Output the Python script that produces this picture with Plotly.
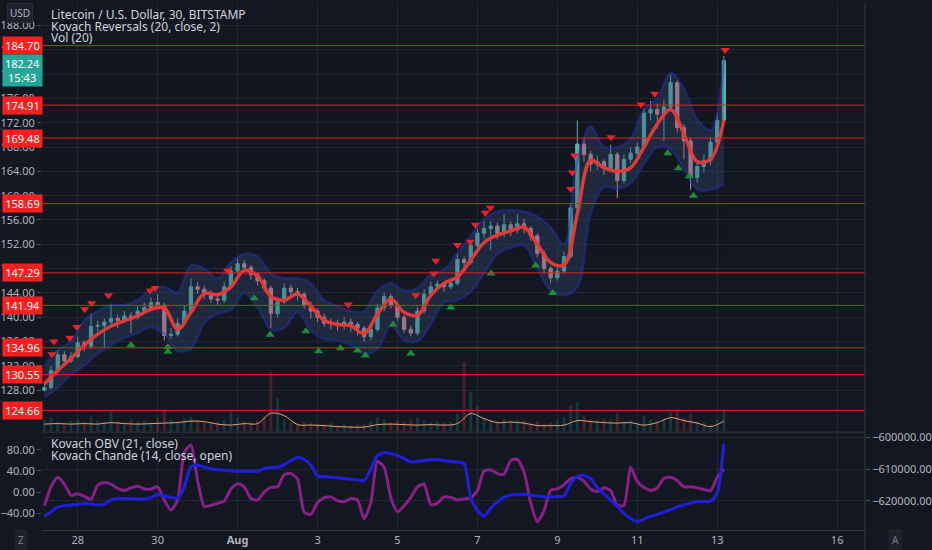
import pandas as pd
import plotly.graph_objects as go

# 4h candles, LTC/USD
closes = [128.4, 131.2, 133.8, 132.8, 133.5, 135.8, 135.2, 138.5, 138.6, 139.2,
          139.8, 139.4, 140.2, 140.0, 141.0, 141.6, 142.4, 142.0, 137.0, 137.2,
          139.0, 141.0, 145.0, 144.6, 143.8, 143.0, 142.8, 145.0, 147.6, 148.8,
          148.2, 147.0, 146.0, 144.8, 140.6, 142.5, 144.8, 144.2, 143.8, 142.0,
          141.0, 140.0, 139.0, 139.0, 138.6, 139.2, 138.8, 138.2, 136.8, 138.0,
          141.5, 143.4, 142.0, 140.0, 138.0, 137.4, 141.0, 143.8, 145.0, 145.4,
          145.0, 145.6, 149.5, 149.0, 151.8, 153.8, 154.6, 155.0, 153.8, 155.2,
          154.4, 155.4, 154.6, 153.4, 150.5, 148.0, 146.5, 147.6, 150.0, 158.0,
          168.5, 166.8, 165.2, 165.6, 164.5, 166.8, 162.5, 166.0, 167.0, 168.0,
          173.6, 174.2, 173.4, 174.6, 178.6, 171.2, 169.0, 163.0, 164.8, 165.8,
          168.8, 172.4, 182.24]
highs = [129.2, 132.0, 134.6, 134.4, 134.2, 136.8, 136.2, 140.6, 139.4, 139.8,
         142.2, 140.4, 141.0, 140.8, 141.8, 142.4, 143.2, 143.8, 142.4, 138.2,
         139.8, 142.0, 146.4, 145.8, 145.2, 144.4, 143.8, 145.8, 148.4, 149.7,
         149.4, 148.6, 147.4, 146.4, 145.2, 143.2, 145.6, 145.4, 144.8, 144.2,
         142.6, 141.4, 140.6, 139.8, 139.6, 140.0, 139.8, 139.2, 138.6, 138.6,
         142.2, 144.0, 143.8, 142.4, 140.4, 138.6, 141.6, 144.6, 145.8, 146.0,
         145.8, 146.4, 150.4, 150.0, 152.6, 154.6, 155.8, 155.8, 155.6, 157.0,
         155.8, 157.0, 156.2, 155.0, 153.8, 151.0, 148.4, 148.2, 150.8, 158.8,
         172.4, 169.4, 167.4, 166.6, 166.0, 168.4, 167.2, 166.8, 168.0, 168.8,
         174.4, 175.6, 175.2, 175.8, 179.8, 179.0, 171.8, 169.6, 165.6, 166.8,
         169.6, 173.4, 183.0]
lows = [127.8, 128.2, 130.8, 132.0, 132.4, 133.2, 134.4, 134.8, 137.6, 135.0,
        138.8, 138.2, 139.0, 137.4, 139.6, 140.6, 141.0, 141.4, 136.2, 136.4,
        136.8, 138.6, 140.8, 143.8, 143.0, 142.4, 142.0, 142.4, 144.8, 147.2,
        147.4, 146.2, 145.2, 144.2, 138.2, 140.0, 142.2, 143.4, 142.8, 141.4,
        139.8, 139.2, 138.4, 138.0, 137.8, 138.0, 137.6, 137.0, 136.0, 136.2,
        137.6, 141.0, 141.4, 139.4, 137.4, 136.8, 137.0, 140.6, 143.2, 144.4,
        144.2, 144.6, 145.2, 148.0, 148.6, 151.2, 153.0, 151.0, 152.8, 153.2,
        153.4, 153.8, 153.8, 152.6, 149.8, 147.2, 145.6, 146.0, 147.2, 149.6,
        157.4, 165.6, 164.0, 164.2, 163.4, 164.0, 159.6, 162.0, 165.4, 166.4,
        167.6, 172.4, 171.0, 169.0, 174.0, 170.4, 166.0, 161.0, 162.2, 163.8,
        165.0, 168.2, 172.0]
first_open = 128.0
volumes = [12, 14, 10, 9, 11, 12, 10, 16, 11, 10,
           22, 10, 9, 12, 10, 11, 9, 14, 22, 12,
           10, 13, 15, 11, 9, 8, 10, 12, 20, 14,
           10, 9, 11, 16, 60, 34, 12, 9, 8, 10,
           9, 8, 7, 9, 6, 7, 6, 7, 8, 10,
           14, 12, 9, 11, 10, 12, 14, 11, 9, 10,
           9, 10, 18, 70, 40, 26, 14, 12, 10, 13,
           11, 12, 11, 9, 10, 8, 9, 11, 14, 26,
           30, 16, 12, 11, 13, 12, 18, 10, 11, 9,
           16, 12, 11, 13, 20, 22, 14, 18, 10, 9,
           7, 12, 22]

# Kovach Chande (left axis) and Kovach OBV (right axis), same 4h grid
chande = [-26, 10, 28, 15, -6, -3, -8, -14, 13, 18,
          15, 7, 3, 8, 11, 6, 6, 10, -15, -34,
          -15, 75, 89, 22, -27, -25, -21, -17, 6, 16,
          10, -12, -15, 0, 9, 10, 33, 35, 25, -38,
          -42, -20, -11, -9, -16, -18, -12, -15, -50, -20,
          58, 47, -10, -37, -26, -10, 10, 15, -24, -21,
          -9, -10, -15, -13, -11, 3, 40, 42, 35, 34,
          60, 62, 38, -20, -56, -35, 3.5, 6, 14, 25,
          28, 20, 6, 1, 8, 3, -25, -25, 47, 20,
          9, 3, 8, 26, 28, 22, 10, 10, 8, 5,
          2.5, 28, 43]
obv = [-624800, -623500, -621900, -621500, -621300, -621100, -620800, -621000, -621300, -621000,
       -619700, -619250, -619250, -619300, -619400, -619500, -619000, -618000, -618400, -618900,
       -619200, -615600, -609300, -608700, -609400, -609900, -610200, -610400, -610600, -610700,
       -610700, -610700, -610700, -609800, -609500, -609400, -608600, -607300, -606400, -607000,
       -608800, -612200, -612400, -612600, -612700, -613000, -613200, -613400, -613700, -610000,
       -605800, -604800, -605200, -605700, -606700, -607800, -607500, -607300, -607100, -607100,
       -607300, -607600, -607800, -608200, -619000, -623000, -624800, -622300, -620300, -618800,
       -618200, -618000, -617900, -618200, -618500, -618700, -618700, -618600, -618500, -614500,
       -612300, -612000, -613000, -615800, -617800, -619800, -621700, -624000, -625500, -626500,
       -625700, -624900, -624200, -623500, -622800, -621900, -621200, -620700, -620300, -620200,
       -620100, -617500, -602000]

# Kovach Reversals line + band, 8h grid
ma = [129.0, 131.2, 133.2, 135.4, 137.2, 138.5, 139.4, 140.2, 141.3, 141.5,
      138.0, 140.8, 143.9, 143.7, 145.0, 147.7, 146.8, 143.4, 142.8, 143.8,
      141.8, 139.5, 138.8, 138.6, 137.3, 140.5, 143.0, 140.8, 140.3, 143.6,
      145.6, 146.6, 149.4, 152.3, 153.5, 154.2, 154.8, 152.0, 149.0, 148.6,
      157.0, 165.8, 164.6, 164.0, 164.6, 168.0, 171.8, 174.2, 170.2, 165.6,
      166.0, 172.5]
band_hi = [132.0, 134.6, 136.0, 139.5, 141.0, 142.0, 142.0, 142.8, 144.6, 145.0,
           144.0, 148.6, 148.0, 146.4, 149.0, 150.4, 150.0, 147.2, 146.4, 146.4,
           145.6, 142.8, 141.8, 141.0, 141.0, 144.4, 145.6, 144.4, 144.8, 147.0,
           147.8, 150.6, 153.4, 156.2, 157.4, 157.6, 157.4, 156.6, 154.8, 152.0,
           166.0, 171.4, 168.0, 168.0, 169.4, 174.2, 176.0, 180.2, 177.6, 172.6,
           170.8, 182.6]
band_lo = [126.8, 128.4, 130.6, 132.0, 134.0, 135.4, 136.6, 137.4, 138.4, 137.2,
           134.4, 134.8, 139.0, 140.6, 141.2, 144.0, 141.6, 138.0, 138.2, 140.8,
           137.8, 136.4, 136.2, 135.4, 134.0, 134.8, 138.6, 136.2, 136.0, 138.8,
           142.4, 142.8, 144.2, 147.2, 150.4, 151.4, 151.8, 148.0, 144.4, 143.6,
           145.0, 157.0, 161.4, 161.2, 162.0, 165.2, 168.0, 167.6, 164.4, 161.0,
           161.0, 161.8]
vol_ma = [7.5, 8, 7.5, 8, 7.5, 9, 8, 7.5, 8, 8.5,
          9, 10.5, 10, 7.5, 6.5, 8, 8, 18.5, 16, 7,
          6.5, 6, 5, 4.5, 4.5, 7, 7.5, 7, 6.5, 7,
          6.5, 8, 18, 13, 9, 9.5, 8.5, 6, 6, 6.5,
          11, 10, 9, 8.5, 9, 6.5, 9, 14, 11, 8.5,
          5, 10.5]

red_t = ["2021-07-27 08:30", "2021-07-27 09:45", "2021-07-27 19:15", "2021-07-27 23:30",
         "2021-07-28 04:10", "2021-07-28 08:20", "2021-07-28 18:30", "2021-07-29 19:30",
         "2021-07-29 22:30", "2021-07-31 18:00", "2021-08-03 18:30", "2021-08-05 11:00",
         "2021-08-05 21:45", "2021-08-05 23:00", "2021-08-06 12:00", "2021-08-06 19:45",
         "2021-08-06 22:45", "2021-08-07 04:45", "2021-08-07 07:45", "2021-08-09 08:00",
         "2021-08-09 09:00", "2021-08-09 10:15", "2021-08-10 08:15", "2021-08-11 02:15",
         "2021-08-11 10:30", "2021-08-13 04:45"]
red_p = [133.9, 136.0, 136.6, 138.4, 141.3, 142.3, 143.6, 144.4, 144.8, 147.7, 142.1, 143.6,
         147.2, 149.3, 151.9, 152.4, 155.2, 157.2, 158.0, 161.1, 163.8, 166.6, 169.6, 175.0,
         176.8, 184.0]
green_t = ["2021-07-29 08:00", "2021-07-30 06:10", "2021-07-30 06:10", "2021-08-01 10:00",
           "2021-08-01 19:30", "2021-08-02 17:00", "2021-08-03 00:40", "2021-08-03 13:45",
           "2021-08-04 00:00", "2021-08-04 04:45", "2021-08-04 21:20", "2021-08-05 08:00",
           "2021-08-06 08:00", "2021-08-07 08:15", "2021-08-08 11:00", "2021-08-08 21:15",
           "2021-08-11 18:15", "2021-08-12 00:45", "2021-08-12 07:15", "2021-08-12 09:45"]
green_p = [135.4, 135.1, 134.3, 143.1, 137.1, 137.7, 134.4, 134.9, 134.5, 133.7, 138.8, 134.0,
           141.6, 147.2, 148.5, 144.0, 167.0, 164.5, 163.2, 160.0]

levels = [184.70, 174.91, 169.48, 158.69, 147.29, 141.94, 134.96, 130.55, 124.66]
last_price = 182.24
countdown = "15:43"

date_ticks = ["2021-07-28", "2021-07-30", "2021-08-01", "2021-08-03", "2021-08-05",
              "2021-08-07", "2021-08-09", "2021-08-11", "2021-08-13", "2021-08-16"]
date_labels = ["28", "30", "<b>Aug</b>", "3", "5", "7", "9", "11", "13", "16"]
price_ticks = list(range(128, 189, 4))
chande_ticks = [-40, 0, 40, 80]
obv_ticks = [-620000, -610000, -600000]

times = pd.date_range("2021-07-27 04:00", periods=len(closes), freq="4h")
times8 = times[::2]
opens = [first_open] + closes[:-1]

BG = "#131722"
GRID = "#222532"
TXT = "#b2b5be"
FONT = "Noto Sans"

fig = go.Figure()

# volume at the bottom of the price pane
vcol = ["rgba(38,166,154,0.22)" if c >= o else "rgba(239,83,80,0.22)" for o, c in zip(opens, closes)]
fig.add_trace(go.Bar(x=times, y=volumes, width=4 * 3600 * 1000 * 0.45,
                     marker=dict(color=vcol, line_width=0), xaxis="x", yaxis="y3"))
fig.add_trace(go.Scatter(x=times8, y=vol_ma, mode="lines", line=dict(color="#e3a173", width=1),
                         line_shape="spline", xaxis="x", yaxis="y3"))

# band
fig.add_trace(go.Scatter(x=times8, y=band_hi, mode="lines", line_shape="spline",
                         line=dict(color="rgba(35,50,190,0.45)", width=2.5), xaxis="x", yaxis="y"))
fig.add_trace(go.Scatter(x=times8, y=band_lo, mode="lines", line_shape="spline",
                         line=dict(color="rgba(35,50,190,0.45)", width=2.5),
                         fill="tonexty", fillcolor="rgba(55,80,125,0.33)", xaxis="x", yaxis="y"))

fig.add_trace(go.Candlestick(x=times, open=opens, high=highs, low=lows, close=closes,
                             increasing=dict(line=dict(color="#5fc3b6", width=1), fillcolor="#5fc3b6"),
                             decreasing=dict(line=dict(color="#e3979a", width=1), fillcolor="#e3979a"),
                             whiskerwidth=0, opacity=0.9, xaxis="x", yaxis="y"))

fig.add_trace(go.Scatter(x=times8, y=ma, mode="lines", line_shape="spline",
                         line=dict(color="#e53935", width=3.5), xaxis="x", yaxis="y"))

fig.add_trace(go.Scatter(x=pd.to_datetime(red_t), y=red_p, mode="markers",
                         marker=dict(symbol="triangle-down", size=8, color="#f0202a"),
                         xaxis="x", yaxis="y"))
fig.add_trace(go.Scatter(x=pd.to_datetime(green_t), y=green_p, mode="markers",
                         marker=dict(symbol="triangle-up", size=8, color="#1b8f36"),
                         xaxis="x", yaxis="y"))

# lower pane
fig.add_trace(go.Scatter(x=times, y=obv, mode="lines", line=dict(color="#1f1fe0", width=3,
                         shape="spline", smoothing=0.6), xaxis="x2", yaxis="y4"))
fig.add_trace(go.Scatter(x=times, y=chande, mode="lines", line=dict(color="#8a1f8c", width=3,
                         shape="spline", smoothing=0.6), xaxis="x2", yaxis="y2"))

xr = ["2021-07-27 02:34", "2021-08-16 16:44"]
axis_font = dict(family=FONT, size=11, color=TXT)

fig.update_layout(
    width=932, height=550,
    margin=dict(l=41, r=61, t=0, b=20),
    paper_bgcolor=BG, plot_bgcolor=BG,
    showlegend=False, hovermode=False,
    font=dict(family=FONT, color=TXT),
    xaxis=dict(domain=[0, 1], anchor="y", range=xr, tickvals=date_ticks, showticklabels=False,
               showgrid=True, gridcolor=GRID, zeroline=False, rangeslider=dict(visible=False)),
    xaxis2=dict(domain=[0, 1], anchor="y2", matches="x", range=xr, tickvals=date_ticks,
                ticktext=date_labels, tickfont=axis_font, showgrid=True, gridcolor=GRID,
                showline=True, linecolor="#363a45", ticks="", zeroline=False),
    yaxis=dict(domain=[0.1868, 1], anchor="x", range=[121.17, 191.72], side="left",
               tickvals=price_ticks, ticktext=[f"{v:.2f}" for v in price_ticks],
               tickfont=axis_font, ticks="outside", ticklen=4, tickcolor="#50535e",
               showgrid=True, gridcolor=GRID, zeroline=False),
    yaxis3=dict(overlaying="y", range=[0, 431], visible=False),
    yaxis2=dict(domain=[0, 0.1849], anchor="x2", range=[-71.6, 112.5], side="left",
                tickvals=chande_ticks, ticktext=[f"{v:.2f}".replace("-", "\u2212") for v in chande_ticks],
                tickfont=axis_font, ticks="outside", ticklen=4, tickcolor="#50535e",
                showgrid=False, zeroline=False),
    yaxis4=dict(overlaying="y2", anchor="x2", side="right", range=[-629156, -598531],
                tickvals=obv_ticks, ticktext=[f"{v:.2f}".replace("-", "\u2212") for v in obv_ticks],
                tickfont=axis_font, ticks="outside", ticklen=4, tickcolor="#50535e",
                showgrid=True, gridcolor=GRID, zeroline=False),
)

# horizontal levels
for lv in levels:
    fig.add_shape(type="line", xref="paper", x0=0, x1=1, yref="y", y0=lv, y1=lv,
                  line=dict(color="#f01e1e", width=1))

# pane separator and right border
fig.add_shape(type="line", xref="paper", yref="paper", x0=0, x1=1.0, y0=0.1858, y1=0.1858,
              line=dict(color="#363a45", width=1))
fig.add_shape(type="line", xref="paper", yref="paper", x0=1, x1=1, y0=-0.04, y1=1,
              line=dict(color="#363a45", width=1))

# price labels for the levels
for lv in levels:
    fig.add_annotation(x=0, xref="paper", y=lv, yref="y", xanchor="right", xshift=1,
                       text=f"{lv:.2f}", showarrow=False, bgcolor="#ff1f1f", width=37,
                       font=dict(family=FONT, size=11, color="white"), borderpad=1)
fig.add_annotation(x=0, xref="paper", y=last_price, yref="y", xanchor="right", yanchor="top",
                   xshift=1, yshift=7, text=f"{last_price:.2f}<br>{countdown}", showarrow=False,
                   bgcolor="#26a69a", width=37, align="center",
                   font=dict(family=FONT, size=11, color="white"), borderpad=1)
fig.add_annotation(x=0, xref="paper", y=1, yref="paper", xanchor="right", yanchor="middle",
                   xshift=-9, yshift=-10, text="USD", showarrow=False, bgcolor="#1e222d",
                   bordercolor="#2a2e39", borderpad=2, font=dict(family=FONT, size=10, color=TXT))

legend_top = ["Litecoin / U.S. Dollar, 30, BITSTAMP", "Kovach Reversals (20, close, 2)", "Vol (20)"]
for k, t in enumerate(legend_top):
    fig.add_annotation(x=0.0084, xref="paper", y=1 - (12 + 11.5 * k) / 530, yref="paper",
                       xanchor="left", yanchor="middle", text=t, showarrow=False,
                       font=dict(family=FONT, size=12, color="#d1d4dc"))
legend_low = ["Kovach OBV (21, close)", "Kovach Chande (14, close, open)"]
for k, t in enumerate(legend_low):
    fig.add_annotation(x=0.0084, xref="paper", y=1 - (443 + 12 * k) / 530, yref="paper",
                       xanchor="left", yanchor="middle", text=t, showarrow=False,
                       font=dict(family=FONT, size=12, color="#d1d4dc"))

# bottom corner buttons
fig.add_annotation(x=0, xref="paper", y=0, yref="paper", xanchor="center", yanchor="middle",
                   xshift=-21, yshift=-10, text="Z", showarrow=False, bgcolor="#1e222d",
                   borderpad=3, font=dict(family=FONT, size=10, color="#787b86"))
fig.add_annotation(x=1, xref="paper", y=0, yref="paper", xanchor="center", yanchor="middle",
                   xshift=30, yshift=-10, text="A", showarrow=False, bgcolor="#1e222d",
                   borderpad=3, font=dict(family=FONT, size=10, color="#787b86"))

# page body has a default 8px margin; drop it so the figure fills the window
fig.write_html("out.html", config={"displayModeBar": False},
               post_script="document.body.style.margin='0';")
